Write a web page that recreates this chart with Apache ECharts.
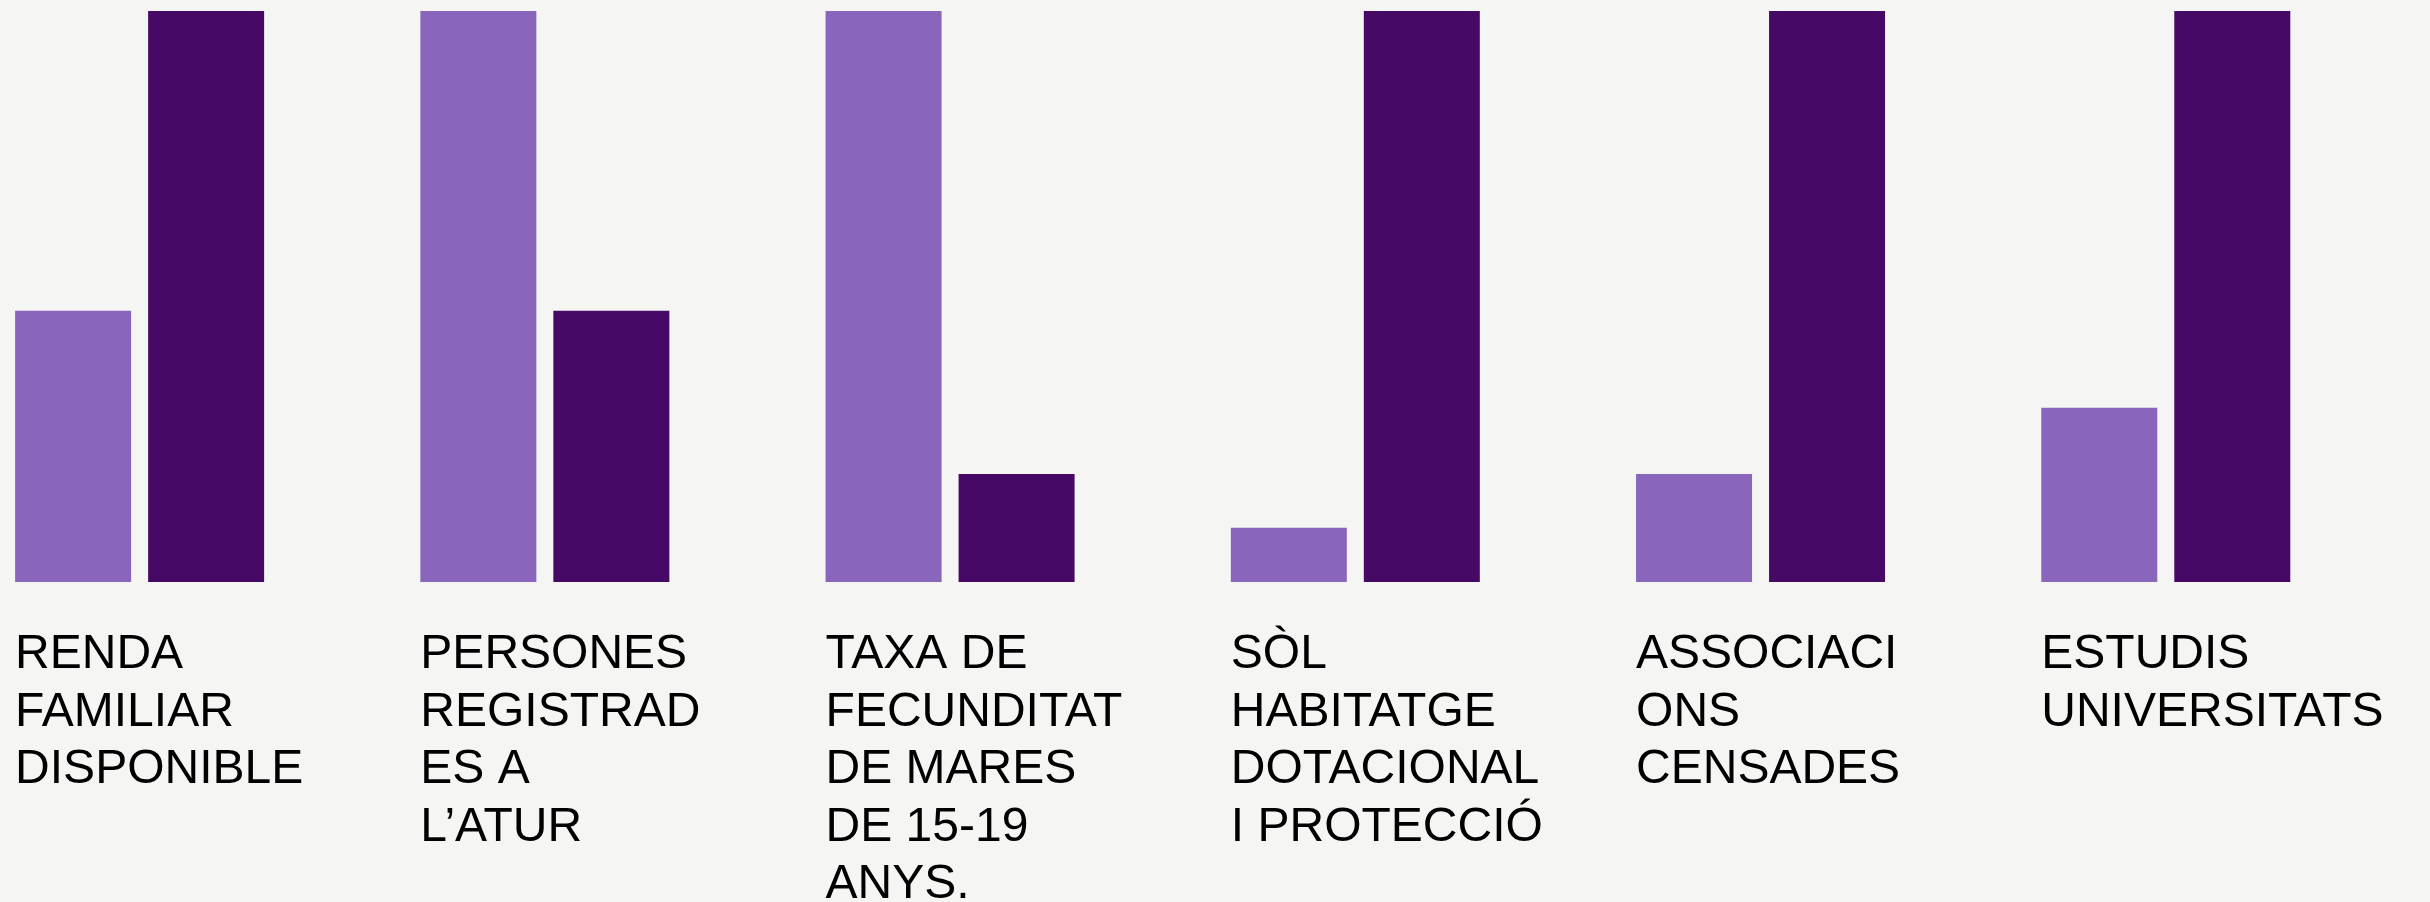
<!DOCTYPE html>
<html>
<head>
<meta charset="utf-8">
<script src="https://cdn.jsdelivr.net/npm/echarts@6/dist/echarts.min.js"></script>
<style>
  html, body { margin: 0; padding: 0; background: #f5f5f3; }
  #chart { width: 2430px; height: 902px; }
</style>
</head>
<body>
<div id="chart"></div>
<script>
// categories, with line breaks as in the picture
const categories = [
    'RENDA\nFAMILIAR\nDISPONIBLE',
    'PERSONES\nREGISTRAD\nES A\nL\u2019ATUR',
    'TAXA DE\nFECUNDITAT\nDE MARES\nDE 15-19\nANYS.',
    'SÒL\nHABITATGE\nDOTACIONAL\nI PROTECCIÓ',
    'ASSOCIACI\nONS\nCENSADES',
    'ESTUDIS\nUNIVERSITATS'
];
// relative values (max = 100)
const lightValues = [47.5, 100, 100, 9.5, 18.9, 30.5];
const darkValues = [100, 47.5, 18.9, 100, 100, 100];

const chart = echarts.init(document.getElementById('chart'));

chart.setOption({
    backgroundColor: '#f5f5f3',
    animation: false,
    grid: {
        left: -63, right: 61.6, top: 11, bottom: 320,
        outerBoundsMode: 'none', // let the grid run past the left edge
    },
    xAxis: {
        type: 'category',
        data: categories,
        axisLine: { show: false },
        axisTick: { show: false },
        axisLabel: {
            interval: 0,
            margin: 44,
            verticalAlign: 'top',
            formatter: (v) => v.split('\n').map((s) => '{l|' + s + '}').join('\n'),
            rich: {
                l: {
                    width: 249,
                    align: 'left',
                    fontSize: 48,
                    lineHeight: 57.6,
                    color: '#000000',
                    fontFamily: "'Liberation Sans', Arial, sans-serif",
                },
            },
        },
    },
    yAxis: {
        type: 'value',
        min: 0,
        max: 100,
        show: false,
        splitLine: { show: false },
    },
    series: [
        {
            type: 'bar',
            data: lightValues,
            barWidth: 116,
            barGap: '14.66%',
            itemStyle: { color: '#8966bb' },
        },
        {
            type: 'bar',
            data: darkValues,
            barWidth: 116,
            itemStyle: { color: '#470966' },
        },
    ],
});
</script>
</body>
</html>
